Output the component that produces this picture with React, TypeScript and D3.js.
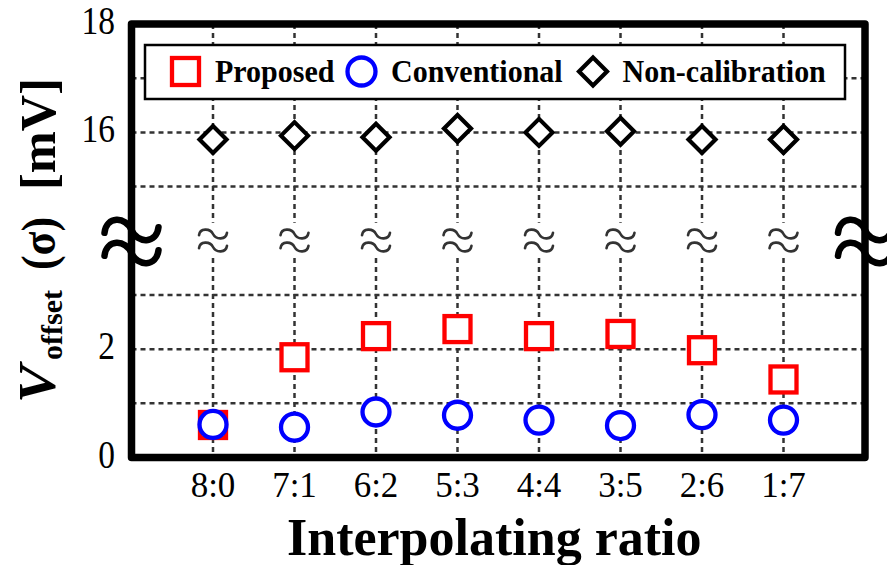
import React from "react";
import * as d3 from "d3";

const categories = ["8:0", "7:1", "6:2", "5:3", "4:4", "3:5", "2:6", "1:7"];
const proposed = [0.6, 1.85, 2.24, 2.37, 2.24, 2.28, 1.98, 1.44];
const conventional = [0.61, 0.56, 0.84, 0.78, 0.69, 0.59, 0.79, 0.69];
const nonCalibration = [15.87, 15.94, 15.91, 16.07, 16.0, 16.02, 15.87, 15.87];
const yTickValues = [0, 2, 16, 18];
const gridValues = [1, 2, 3, 15, 16, 17];
const legendLabels = ["Proposed", "Conventional", "Non-calibration"];

const W = 887;
const H = 565;
const L = 131.5;
const R = 865;
const T = 24;
const B = 457.5;
const FONT = "'Liberation Serif', 'Times New Roman', serif";
const RED = "#ff0000";
const BLUE = "#0000ff";
const GRID = "#333333";

// broken axis: values above the break are shifted down by 10
const toVirtual = (v: number) => (v <= 9 ? v : v - 10);

const x = d3.scalePoint<string>().domain(categories).range([L, R]).padding(1);
const yv = d3.scaleLinear().domain([0, 8]).range([B, T]);
const y = (v: number) => yv(toVirtual(v));

const wave = (cx: number, cy: number, hw: number, a: number) =>
  `M${cx - hw},${cy + a * 0.2} C${cx - hw * 0.93},${cy - a} ${cx - hw * 0.22},${cy - a} ${cx},${cy} ` +
  `C${cx + hw * 0.22},${cy + a} ${cx + hw * 0.93},${cy + a} ${cx + hw},${cy - a * 0.2}`;

const Square = ({ cx, cy, s }: { cx: number; cy: number; s: number }) => (
  <rect x={cx - s / 2} y={cy - s / 2} width={s} height={s} fill="#fff" stroke={RED} strokeWidth={4.3} />
);
const Circle = ({ cx, cy, r }: { cx: number; cy: number; r: number }) => (
  <circle cx={cx} cy={cy} r={r} fill="#fff" stroke={BLUE} strokeWidth={4.3} />
);
const Diamond = ({ cx, cy, h }: { cx: number; cy: number; h: number }) => (
  <path
    d={`M${cx},${cy - h} L${cx + h},${cy} L${cx},${cy + h} L${cx - h},${cy} Z`}
    fill="#fff"
    stroke="#000"
    strokeWidth={4.2}
    strokeLinejoin="miter"
  />
);

export default function App() {
  const breakYs = [230, 253];
  const tildeYs = [234, 247];
  const breakMid = (y(3) + y(15)) / 2;
  const legendCenters = [185.5, 361.5, 593];

  return (
    <svg width={W} height={H} style={{ position: "absolute", left: 0, top: 0 }} fontFamily={FONT}>
      <rect x={0} y={0} width={W} height={H} fill="#fff" />

      {/* horizontal grid */}
      {gridValues.map((g) => (
        <line key={"h" + g} x1={L} x2={R} y1={y(g)} y2={y(g)} stroke={GRID} strokeWidth={2.5} strokeDasharray="5,4" />
      ))}
      {/* vertical grid */}
      {categories.map((c) => (
        <line key={"v" + c} x1={x(c)} x2={x(c)} y1={T} y2={B} stroke={GRID} strokeWidth={2.5} strokeDasharray="5,4" />
      ))}

      {/* break tildes at each category */}
      {categories.map((c) => (
        <g key={"t" + c}>
          <rect x={(x(c) as number) - 4} y={breakMid - 18} width={8} height={34} fill="#fff" />
          {tildeYs.map((ty) => (
            <path key={ty} d={wave(x(c) as number, ty, 14, 6)} fill="none" stroke={GRID} strokeWidth={2.6} strokeLinecap="round" />
          ))}
        </g>
      ))}

      {/* legend */}
      <rect x={145} y={45} width={700} height={54} fill="#fff" stroke="#000" strokeWidth={2.5} />
      <Square cx={legendCenters[0]} cy={71.5} s={27} />
      <Circle cx={legendCenters[1]} cy={71.5} r={14} />
      <Diamond cx={legendCenters[2]} cy={71.5} h={14} />
      {legendLabels.map((lab, i) => (
        <text
          key={lab}
          transform={`translate(${legendCenters[i] + 29.5},82) scale(1,1.08)`}
          fontSize={30}
          fontWeight="bold"
          fill="#000"
        >
          {lab}
        </text>
      ))}

      {/* frame */}
      <rect x={L} y={T} width={R - L} height={B - T} fill="none" stroke="#000" strokeWidth={7.5} strokeLinejoin="round" />

      {/* axis break marks */}
      {[L, R].map((bx) =>
        breakYs.map((by) => (
          <path key={bx + "-" + by} d={wave(bx, by, 27, 14)} fill="none" stroke="#000" strokeWidth={6.5} strokeLinecap="round" />
        ))
      )}

      {/* data */}
      {nonCalibration.map((v, i) => (
        <Diamond key={"n" + i} cx={x(categories[i]) as number} cy={y(v)} h={13.5} />
      ))}
      {proposed.map((v, i) => (
        <Square key={"p" + i} cx={x(categories[i]) as number} cy={y(v)} s={26} />
      ))}
      {conventional.map((v, i) => (
        <Circle key={"c" + i} cx={x(categories[i]) as number} cy={y(v)} r={13.5} />
      ))}

      {/* y tick labels */}
      {yTickValues.map((t) => (
        <text
          key={"yt" + t}
          transform={`translate(115,${y(t) + 10}) scale(0.93,1.12)`}
          fontSize={36}
          textAnchor="end"
          fill="#000"
        >
          {t}
        </text>
      ))}
      {/* x tick labels */}
      {categories.map((c) => (
        <text key={"xt" + c} x={x(c)} y={497} fontSize={35} textAnchor="middle" fill="#000">
          {c}
        </text>
      ))}

      {/* x title */}
      <text x={(L + R) / 2 - 4} y={555} fontSize={52} fontWeight="bold" textAnchor="middle" fill="#000">
        Interpolating ratio
      </text>

      {/* y title */}
      <g fill="#000" fontWeight="bold">
        <text transform="translate(55,403) rotate(-90)" fontSize={52} fontStyle="italic" textLength={38} lengthAdjust="spacingAndGlyphs">
          V
        </text>
        <text transform="translate(62,360) rotate(-90)" fontSize={30} textLength={70} lengthAdjust="spacingAndGlyphs">
          offset
        </text>
        <text transform="translate(55,270) rotate(-90)" fontSize={48} textLength={53} lengthAdjust="spacingAndGlyphs">
          (σ)
        </text>
        <text transform="translate(55,190) rotate(-90)" fontSize={50} textLength={112} lengthAdjust="spacingAndGlyphs">
          [mV]
        </text>
      </g>
    </svg>
  );
}
